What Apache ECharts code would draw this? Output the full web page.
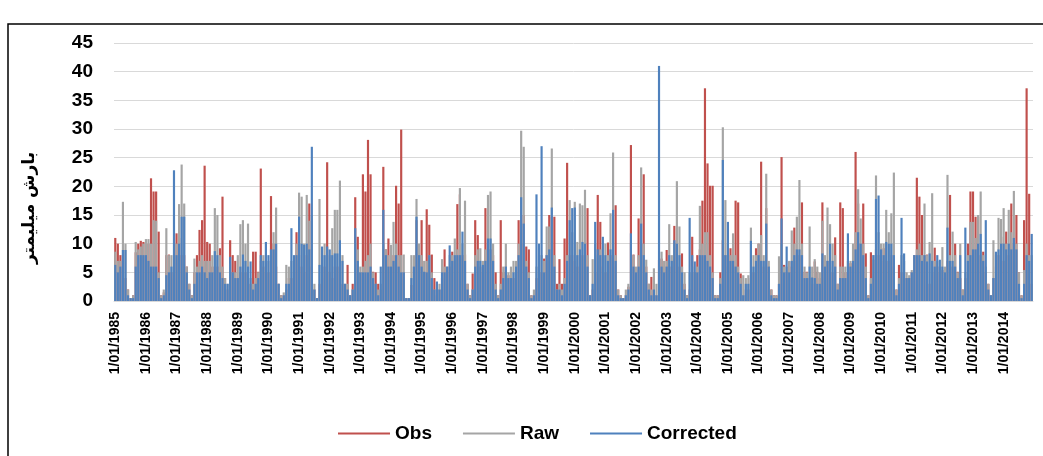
<!DOCTYPE html>
<html>
<head>
<meta charset="utf-8">
<script src="https://cdn.jsdelivr.net/npm/echarts@6/dist/echarts.min.js"></script>
<style>
html,body{margin:0;padding:0;background:#fff;}
#c{width:1043px;height:456px;}
</style>
</head>
<body>
<div id="c"></div>
<script>
// Years shown on the category axis (one label per January)
const years = [1985,1986,1987,1988,1989,1990,1991,1992,1993,1994,1995,1996,1997,1998,1999,
               2000,2001,2002,2003,2004,2005,2006,2007,2008,2009,2010,2011,2012,2013,2014];
const yTicks = [0,5,10,15,20,25,30,35,40,45];
const seriesNames = ['Obs','Raw','Corrected'];
const yTitle = 'بارش میلیمتر';

// Monthly peak precipitation (mm), 12 values per year
const obs = [
 11,10,8,8,4,2,0.5,1,8.5,10,10.5,10.3,
 10.3,10,21.4,19.1,19.1,12.1,1,1.5,8,8.1,5,4,
 11.8,11,8,8,6,3,1,5,8,12.4,14.1,23.6,
 10.3,10,6,6,6,9.2,18.2,4,2,10.6,8,7,
 4,5,6,5,3,3,8.6,8.6,5.1,23.1,6,5,
 5,18.3,10,6,3,1,1,2,4,4,5,12,
 8,6,5,8,17,6,2,0.5,3,4,6,24.2,
 5.1,4,6,6,6,3,2,6.3,1,3,18.1,11.2,
 5,22.1,19.1,28.1,22.1,5.1,5,3,2,23.4,9,10.9,
 6,8,20.1,17,29.9,5,0.5,0.5,2.8,6,14.1,8,
 14.1,5,16,13.3,8.1,4,1,2,4,9,5,6,
 8.6,7,16.9,18.6,8,8.1,3,1,4.8,14.1,11.5,6,
 5,16.2,10,9,8,5,1,14.1,5,6,4.5,4.5,
 4,5,14.1,10,15,9.5,9,1,1,4,5,5,
 7.4,8,15,14.7,14.7,3,7.3,3,10.9,24.1,8,8,
 7,6,8,8,6,16.2,1,2,5,18.5,13.8,6,
 5,10.2,8,6,16.7,2,1,0.5,1,2.5,27.2,8.1,
 5.4,14.4,10,22.1,6,3,4.2,2,1,7.2,7.4,6,
 8.9,6,6,13.1,10,6,8.3,3,1,2,11.2,5,
 8,9,17.5,37.1,24,20.1,20.1,1,1,5,10.6,8,
 6,9.2,6,17.5,17.2,4.8,1,2,2,4,5,9.2,
 10,24.3,6,16.2,6,2,1,1,3,25.1,6.3,5,
 6.9,6,12.8,7,8,17.2,5.1,5.1,4,3,6.9,5.1,
 4,17.2,7,7,6,5,11.1,3,17.2,16.2,5,5,
 6.6,7,26,17,10,17,8.3,1,8.5,7.2,9,8,
 7,9.2,7,7,8,6,2,6.3,5,5,4,4,
 5,8,21.5,18.2,15,8,8.1,3,5,9.3,6,5,
 5.4,4,7,18.5,6,10,5.1,4,2,4,10,19.1,
 19.1,14.7,14.7,8,8.6,5,3,1,4,6,8,11.2,
 7,12.1,8,17,10,15,5,1,14.1,37.1,18.7,3
];
const raw = [
 8.6,7,7,17.3,10,2,0.5,1,10.3,9,9.5,10,
 10.8,10.8,10,14.1,14,5,1,2,12.7,8,8,6,
 10,16.9,23.8,17,6,3,1,7.4,6,7,8,7,
 7,7,8,16.2,15,8,6,4,3,6.5,5,5,
 8,13.4,14.1,10,13.5,4,3,4,5,7,8,8,
 7,8,12,16.3,3,1,1.5,6.3,6,7,7,10,
 18.9,18.2,10,18.5,14,15,3,0.5,17.8,8,10,9,
 8,12.7,15.9,15.9,21,8,3,3,1,2,10,9,
 6,6,7,8,10,5,3,2,3,10,9,8,
 9.8,13.8,10,8,8,8.1,0.5,0.5,8,8,17.8,10,
 8,7,7,8,5,2,1,3,7.3,6,6,8,
 8,10.9,9,19.7,10,17.5,3,1,2,8,9,9.2,
 7,9,18.5,19.1,10,3,1,3,6,10,5,6,
 7,7,10,29.7,26.9,7,5,1,2,6,8,8,
 7,13,13,26.6,8,2,3,2,4,8,17.6,12,
 17.3,10.3,17,16.7,19.4,8,1,7.3,10,8,9,8,
 10,8,15.3,25.9,8,2,1,0.5,2,3,10,8,
 6,8,23.3,10,7.2,3,2,5.7,3,5,8.6,7,
 7,13.4,8,10,20.9,13,6,5,1,5,6,5,
 6,16.6,10,12,12,8,5,1,1,4,30.3,17.6,
 10,8,11.8,8,6,4,4.5,4,4.5,12.8,8,8,
 10,11.5,8,22.2,7,2,1,1,7.8,10,6,6,
 7,12.3,10,14.7,21.1,10,6,5,13,6,7.3,6,
 5,14,8,16.3,13.4,10,8,3,6,6,6,7,
 7,10,12,19.5,14.4,10,6,1,4,8,21.9,12,
 10,10,15.9,12,15.3,22.4,2,4,8,7,5,4.5,
 5.4,8,9,10,8,17,8,10.3,18.8,7,7,6,
 9.4,6,22,8,12.1,8,5,10,2,5,8,13.8,
 13.8,11,15,19.1,8,6,3,1,10.6,8,14.5,14.3,
 16.2,10,15.9,12,19.2,10,5,1,5.4,10,8,8
];
const corrected = [
 6.3,5,6,8.9,8.9,1,0.5,0.5,6,8,8,8,
 8,7,6,6,6,4,0.5,1,4.5,5,6,22.8,
 8,10,14.7,14.7,5,2,0.5,3,5,5,6,5,
 4,5,5,8.7,8,5,4,3,3,7.7,5,4,
 4,6,8.1,7,6,6.9,2,3,4,8,7,10.3,
 8,9,9,10,3,0.5,1,3,3,12.7,8,8,
 14.7,10,9.8,10,9,26.9,2,0.5,6.3,9.5,8,9.5,
 9,8,8.3,8.3,10.6,7,3,2,1,2,12.7,7,
 5,5,5,5,6,4,3,1,6,15.9,8,6,
 6,7,8,6,5,5,0.5,0.5,4,6,14.7,8,
 6,5.1,5,8,4,2,3.4,2,5,5,6,9.7,
 7,8,8,8,12.1,7,2,0.5,2,6,7,7,
 6.3,7,10.9,10.9,7,2,0.5,2,4,6,4,4,
 5,6,8,18.1,13.5,6,4,0.5,1,18.6,10,27,
 5,8,9,16.3,6,2,2,1,3,7,14.1,16.2,
 16.3,8,9,10.3,10,6,1,3,13.8,9,8,11.2,
 8,7,9,15.9,7,1,0.5,0.5,1,2,11.8,6,
 5,6,13.5,8,5,2,1,2,1,41,6,5,
 6,8,7,10.6,10,8,5,2,0.5,14.5,8,6.9,
 5,8,8,8,7,6,4,0.5,0.5,3,24.6,8,
 13.8,7,7,6,5,3,1,3,3,10.5,6,7,
 8,7,7,13.5,6,1,0.5,0.5,3,14.4,5,9.5,
 5,7,8,9,9,8,4,4,6,4.1,4,3,
 3,8.3,6,7,10,7,6,2,4,4,4,11.8,
 6,7,9,12,10,8,4,0.5,3,8,17.8,18.4,
 9,8,10.3,10,10,8,1,3,14.5,8.3,4,4,
 5,8,8,8,7,8,6.9,8.3,7,6,8,7.2,
 6,5,12.8,7,7,6,4,8,1,12.8,7,8,
 9,9,10,11.7,7,14.1,2,1,4,8.6,9,10,
 10,9,10,9,11,9,3,0.5,3,8,7,11.7
];

const colors = ['#C0504D','#A5A5A5','#4F81BD'];

// Category axis: one slot per month, label on each January
const categories = [];
years.forEach(y => { for (let m = 0; m < 12; m++) categories.push(m === 0 ? '1/01/' + y : ''); });

const chart = echarts.init(document.getElementById('c'), null, {renderer: 'canvas'});
const values = [obs, raw, corrected];
chart.setOption({
  animation: false,
  backgroundColor: '#fff',
  grid: {left: 114, right: 10, top: 43, bottom: 155, containLabel: false},
  legend: {
    left: 333, top: 419,
    itemWidth: 52, itemHeight: 2, itemGap: 31,
    icon: 'rect',
    textStyle: {fontFamily: 'Liberation Sans, Arial, sans-serif', fontWeight: 'bold', fontSize: 19, color: '#000'},
    data: seriesNames
  },
  xAxis: {
    type: 'category',
    data: categories,
    boundaryGap: true,
    axisLine: {show: true, lineStyle: {color: '#d9d9d9', width: 1}},
    axisTick: {show: false},
    axisLabel: {
      interval: 11, rotate: 90, margin: 11,
      fontFamily: 'Liberation Sans, Arial, sans-serif', fontWeight: 'bold', fontSize: 14, color: '#000'
    },
    splitLine: {show: false}
  },
  yAxis: {
    type: 'value', min: 0, max: 45, interval: 5,
    axisLine: {show: false}, axisTick: {show: false},
    axisLabel: {margin: 21, fontFamily: 'Liberation Sans, Arial, sans-serif', fontWeight: 'bold', fontSize: 19, color: '#000',
      formatter: v => yTicks.includes(v) ? String(v) : ''},
    splitLine: {lineStyle: {color: '#d9d9d9', width: 1}}
  },
  series: seriesNames.map((n, i) => ({
    name: n, type: 'bar', data: values[i],
    barGap: '-100%', barCategoryGap: '15%',
    itemStyle: {color: colors[i]},
    emphasis: {disabled: true}
  })),
  graphic: [
    {type: 'rect', shape: {x: 8, y: 24, width: 1100, height: 500}, style: {fill: 'none', stroke: '#000', lineWidth: 1.5}, silent: true, z: 100},
    {type: 'text', x: 30, y: 208, rotation: Math.PI / 2,
     style: {text: yTitle, fontFamily: 'DejaVu Sans', fontWeight: 'bold', fontSize: 17, fill: '#000',
             textAlign: 'center', textVerticalAlign: 'middle'}}
  ]
});
</script>
</body>
</html>
